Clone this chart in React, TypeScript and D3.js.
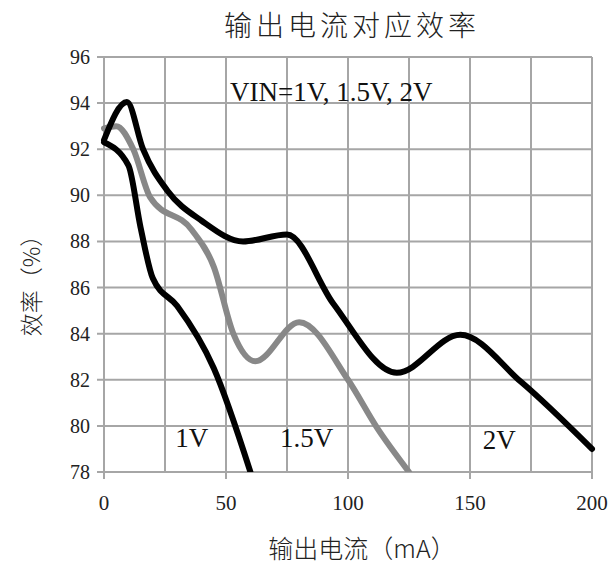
import React from "react";
import * as d3 from "d3";

const xTicks = [0, 50, 100, 150, 200];
const xGrid = [0, 25, 50, 75, 100, 125, 150, 175, 200];
const yTicks = [78, 80, 82, 84, 86, 88, 90, 92, 94, 96];

const x1V = [0, 10, 15, 20, 30, 45, 60];
const y1V = [92.3, 91.3, 88.6, 86.4, 85.2, 82.5, 78];

const x15V = [0, 5, 12, 19, 36, 45, 53, 62, 80, 100, 112, 125];
const y15V = [92.9, 93.0, 92.0, 89.9, 88.5, 86.9, 84.0, 82.8, 84.5, 82.0, 79.9, 78];

const x2V = [0, 9.4, 16, 26, 40, 57, 75, 94, 120, 146, 171, 200];
const y2V = [92.4, 94.05, 92.0, 90.2, 88.9, 88.0, 88.3, 85.3, 82.3, 83.95, 81.9, 79.0];

const seriesNames = ["1V", "1.5V", "2V"];
const seriesLabelPos = [[36, 79.5], [83, 79.5], [162, 79.4]];

const W = 611, H = 568;
const M = { left: 104, right: 592, top: 57, bottom: 472 };

export default function App() {
  const x = d3.scaleLinear().domain([0, 200]).range([M.left, M.right]);
  const y = d3.scaleLinear().domain([78, 96]).range([M.bottom, M.top]);
  const line = d3
    .line<[number, number]>()
    .x((d) => x(d[0]))
    .y((d) => y(d[1]))
    .curve(d3.curveMonotoneX);
  const series = [
    { xs: x1V, ys: y1V, color: "#000" },
    { xs: x15V, ys: y15V, color: "#888" },
    { xs: x2V, ys: y2V, color: "#000" },
  ];
  const grid = "#a6a6a6";
  const serif = "'Liberation Serif', 'DejaVu Serif', serif";
  const cjk = "'Noto Sans CJK SC', sans-serif";
  return (
    <div style={{ position: "absolute", left: 0, top: 0 }}>
      <svg width={W} height={H} style={{ display: "block", background: "#fff" }}>
        <defs>
          <clipPath id="plot">
            <rect x={M.left - 4} y={M.top - 4} width={M.right - M.left + 8} height={M.bottom - M.top + 4} />
          </clipPath>
        </defs>
        <text x={352} y={36} textAnchor="middle" fontFamily={cjk} fontSize={28} fontWeight={300} letterSpacing={4} fill="#222">
          输出电流对应效率
        </text>
        {xGrid.map((v) => (
          <line key={"xg" + v} x1={x(v)} x2={x(v)} y1={y(96)} y2={y(78)} stroke={grid} strokeWidth={2} />
        ))}
        {yTicks.map((v) => (
          <line key={"yg" + v} x1={M.left - 7} x2={M.right} y1={y(v)} y2={y(v)} stroke={grid} strokeWidth={2} />
        ))}
        {xTicks.map((v) => (
          <line key={"xt" + v} x1={x(v)} x2={x(v)} y1={M.bottom} y2={M.bottom + 7} stroke={grid} strokeWidth={2} />
        ))}
        {yTicks.map((v) => (
          <text key={"yl" + v} x={90} y={y(v)} dy="0.35em" textAnchor="end" fontFamily={serif} fontSize={20} fill="#222">
            {v}
          </text>
        ))}
        {xTicks.map((v) => (
          <text key={"xl" + v} x={x(v)} y={503} dy="0.35em" textAnchor="middle" fontFamily={serif} fontSize={21} fill="#222">
            {v}
          </text>
        ))}
        <g clipPath="url(#plot)">
          {series.map((s, i) => (
            <path
              key={i}
              d={line(s.xs.map((xv, j) => [xv, s.ys[j]] as [number, number])) || ""}
              fill="none"
              stroke={s.color}
              strokeWidth={6}
              strokeLinejoin="round"
              strokeLinecap="round"
            />
          ))}
        </g>
        {seriesNames.map((n, i) => (
          <text key={n} x={x(seriesLabelPos[i][0])} y={y(seriesLabelPos[i][1])} dy="0.35em" textAnchor="middle" fontFamily={serif} fontSize={27} fill="#111">
            {n}
          </text>
        ))}
        <text x={230} y={101} fontFamily={serif} fontSize={27} fill="#111">
          VIN=1V, 1.5V, 2V
        </text>
        <text x={362} y={558} textAnchor="middle" fontFamily={cjk} fontSize={25} fontWeight={300} fill="#222">
          输出电流（mA）
        </text>
        <text transform="translate(32,280) rotate(-90)" textAnchor="middle" dy="0.35em" fontFamily={cjk} fontSize={23} fontWeight={300} fill="#222">
          效率（%）
        </text>
      </svg>
    </div>
  );
}
